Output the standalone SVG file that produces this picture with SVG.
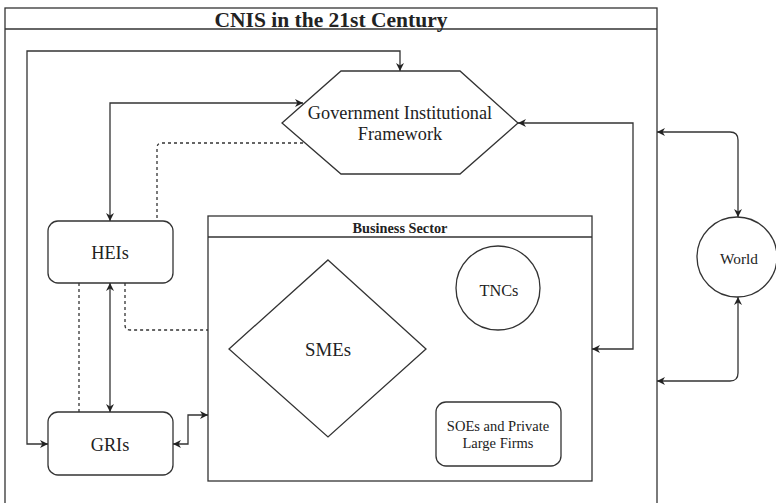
<svg xmlns="http://www.w3.org/2000/svg" width="776" height="503" viewBox="0 0 776 503">
<style>
.s{fill:#fff;stroke:#333;stroke-width:1.3}
.c{fill:none;stroke:#333;stroke-width:1.3;marker-start:url(#a);marker-end:url(#a)}
.d{fill:none;stroke:#333;stroke-width:1.3;stroke-dasharray:3 3}
.t{font-family:"Liberation Serif","Times New Roman",serif;fill:#222;text-anchor:middle}
.b{font-weight:bold}
</style>
<defs>
<marker id="a" viewBox="0 0 10 10" refX="10" refY="5" markerWidth="9" markerHeight="8" markerUnits="userSpaceOnUse" orient="auto-start-reverse">
<path d="M0,0 L10,5 L0,10 L3,5 z" fill="#222"/>
</marker>
</defs>
<rect width="776" height="503" fill="#fff"/>
<g id="cnis">
<rect class="s" x="5" y="8" width="652" height="510"/>
<line x1="5" y1="29" x2="657" y2="29" stroke="#333" stroke-width="1.3"/>
<text class="t b" x="331" y="27" font-size="21.5">CNIS in the 21st Century</text>
</g>
<g id="business">
<rect class="s" x="208" y="216" width="384" height="265"/>
<line x1="208" y1="237" x2="592" y2="237" stroke="#333" stroke-width="1.3"/>
<text class="t b" x="400" y="233" font-size="14.3">Business Sector</text>
</g>
<g id="gov">
<polygon class="s" points="282,123 341,71 460,71 518,123 460,174 341,174"/>
<text class="t" x="400" y="119" font-size="18.3">Government Institutional</text>
<text class="t" x="400" y="140" font-size="18.3">Framework</text>
</g>
<g id="heis">
<rect class="s" x="48" y="221" width="125" height="62" rx="10"/>
<text class="t" x="110" y="259" font-size="18.3">HEIs</text>
</g>
<g id="gris">
<rect class="s" x="48" y="412" width="125" height="63" rx="10"/>
<text class="t" x="110" y="451" font-size="18.3">GRIs</text>
</g>
<g id="smes">
<polygon class="s" points="328,260 426,349 328,437 229,349"/>
<text class="t" x="328" y="356" font-size="18.8">SMEs</text>
</g>
<g id="tncs">
<circle class="s" cx="498" cy="288" r="42"/>
<text class="t" x="499" y="296" font-size="16.3">TNCs</text>
</g>
<g id="soes">
<rect class="s" x="436" y="402" width="125" height="64" rx="10"/>
<text class="t" x="498" y="431" font-size="14.5">SOEs and Private</text>
<text class="t" x="498" y="448" font-size="14.5">Large Firms</text>
</g>
<g id="world">
<circle class="s" cx="737" cy="257" r="40"/>
<text class="t" x="739" y="264" font-size="15.3">World</text>
</g>
<g id="connectors">
<path class="c" d="M400,71 L400,51 L27,51 L27,444 L48,444"/>
<path class="c" d="M110,221 L110,103 L303,103"/>
<path class="d" d="M303,143 L162,143 Q157,143 157,148 L157,221"/>
<path class="c" d="M110,283 L110,412"/>
<path class="d" d="M79,283 L79,412"/>
<path class="d" d="M125,283 L125,325 Q125,330 130,330 L208,330"/>
<path class="c" d="M173,444 L188,444 L188,415 L208,415"/>
<path class="c" d="M518,123 L633,123 L633,349 L592,349"/>
<path class="c" d="M657,132 L730,132 Q738,132 738,140 L738,217"/>
<path class="c" d="M738,297 L738,373 Q738,381 730,381 L657,381"/>
</g>
</svg>
